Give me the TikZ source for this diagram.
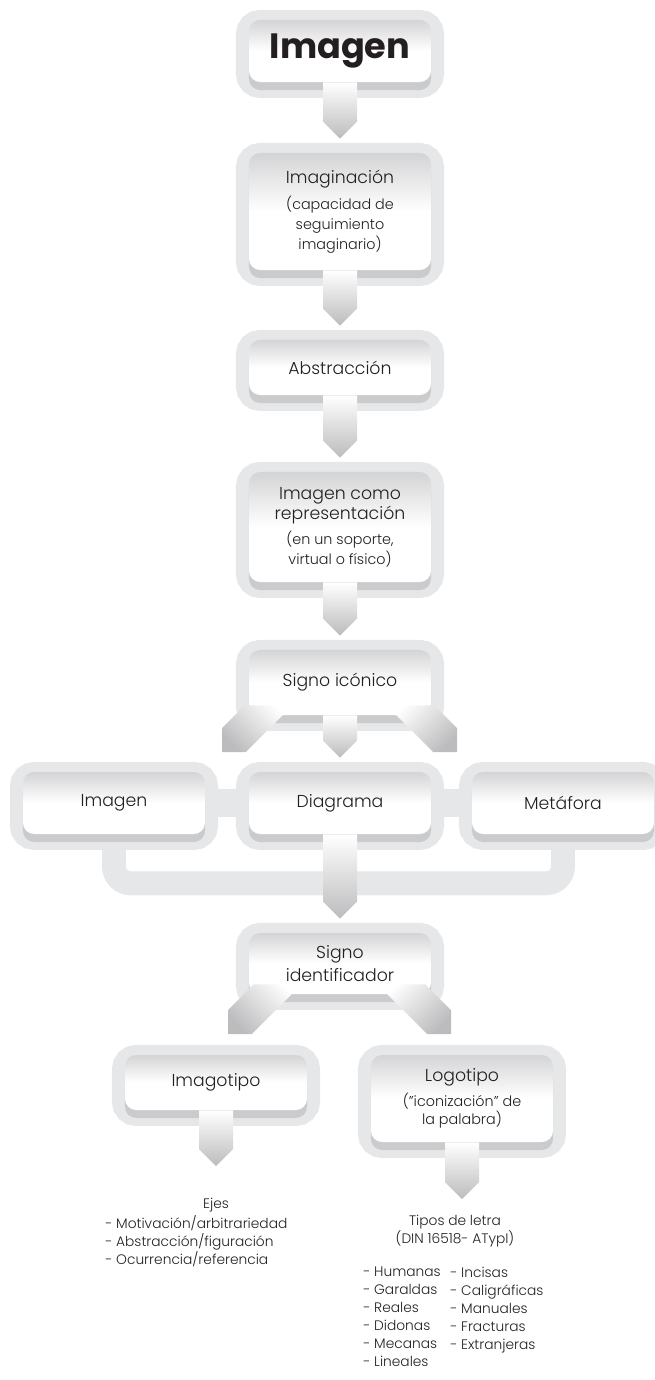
\documentclass[tikz,border=0pt]{standalone}
\usepackage{fontspec}
\setmainfont{Poppins Light}
\newfontfamily\negrita{Poppins Bold}
\usepackage{tikz}
\usetikzlibrary{calc,backgrounds}

\definecolor{marco}{RGB}{230,231,232}
\definecolor{cajasup}{RGB}{212,212,214}
\definecolor{labio}{RGB}{203,203,205}
\definecolor{flechagris}{RGB}{188,188,190}
\definecolor{tinta}{RGB}{35,31,32}

\newcommand{\texto}{\fontsize{12.3}{14}\selectfont}
\newcommand{\parentesis}{\fontsize{10.2}{14}\selectfont}
\newcommand{\titular}{\fontsize{25}{30}\selectfont\negrita}
\newcommand{\nota}{\fontsize{9.8}{12.8}\selectfont}

\tikzset{
  caja/.style={rounded corners=8pt, minimum width=4.55cm, align=center, text=tinta, font=\texto,
    top color=cajasup, bottom color=white, middle color=white,
    preaction={draw=marco, line width=18.5pt, transform canvas={yshift=-2.1pt}},
    preaction={fill=labio, transform canvas={yshift=-5.7pt}}},
  flecha/.style={top color=white, bottom color=flechagris},
  barra/.style={draw=marco, line width=20pt},
  nota/.style={font=\nota, text=tinta, align=center},
  lista/.style={font=\nota, text=tinta, align=left, anchor=north west, inner sep=0pt}
}

\newcommand{\bajar}[3][14]{%
  \shade[flecha] ($(#2.south)+(-17,0)$) -- ($(#2.south |- #3.north)+(-17,-#1-17)$)
    -- ($(#2.south |- #3.north)+(0,-#1)$) -- ($(#2.south |- #3.north)+(17,-#1-17)$)
    -- ($(#2.south)+(17,0)$) -- cycle;}
\newcommand{\sesgar}[4]{%
  \shade[flecha, shading angle=#4] let \p1=(#2), \p2=(#1.south) in
    (\p1) -- (\x1,\y1+17pt) -- ({\x1+(#3)*(\y2+7pt-\y1-17pt)},\y2+7pt)
    -- ({\x1+(#3)*(\y2+7pt-\y1+17pt)},\y2+7pt) -- ({\x1+(#3)*17pt},\y1) -- cycle;}

\begin{document}
\begin{tikzpicture}[x=0.025cm, y=-0.025cm]
\useasboundingbox (0,0) rectangle (655,1380);

\node[caja, minimum height=1.55cm, font=\titular] (titulo) at (340,51) {Imagen};
\node[caja, minimum height=2.925cm] (imaginacion) at (340,211.5) {Imaginación\\[5pt]{\parentesis (capacidad de}\\{\parentesis seguimiento}\\{\parentesis imaginario)}};
\node[caja, minimum height=1.375cm] (abstraccion) at (340,367.5) {Abstracción};
\node[caja, minimum height=2.75cm] (representacion) at (340,527) {Imagen como\\representación\\[4pt]{\parentesis (en un soporte,}\\{\parentesis virtual o físico)}};
\node[caja, minimum height=1.625cm] (icono) at (340,682.5) {Signo icónico};

\node[caja, minimum height=1.55cm] (imagenb) at (114,803) {Imagen};
\node[caja, minimum height=1.55cm] (diagrama) at (340,803) {Diagrama};
\node[caja, minimum height=1.55cm] (metafora) at (563,803) {Metáfora};

\node[caja, minimum height=1.525cm] (identificador) at (340,963.5) {Signo\\[2pt]identificador};
\node[caja, minimum height=1.375cm] (imagotipo) at (216,1082.5) {Imagotipo};
\node[caja, minimum height=2.175cm] (logotipo) at (462,1098.5) {Logotipo\\[4pt]{\parentesis ("iconización" de}\\[-1pt]{\parentesis la palabra)}};

\node[nota] (ejes) at (216,1205) {Ejes};
\node[lista] (ejeslista) at (105,1215) {- Motivación/arbitrariedad\\- Abstracción/figuración\\- Ocurrencia/referencia};
\node[nota] (tipos) at (455,1231) {Tipos de letra\\(DIN 16518- ATypI)};
\node[lista] (familias1) at (363,1267) {- Humanas\\- Garaldas\\- Reales\\- Didonas\\- Mecanas\\- Lineales};
\node[lista] (familias2) at (450,1267) {- Incisas\\- Caligráficas\\- Manuales\\- Fracturas\\- Extranjeras};

\coordinate (puntaimagen) at (222,752);
\coordinate (puntametafora) at (457,752);
\coordinate (puntaimagotipo) at (228,1034);
\coordinate (puntalogotipo) at (451,1034);

\begin{scope}[on background layer]
\draw[barra] (imagenb) -- (metafora);
\draw[barra, line width=17pt, rounded corners=12pt] (imagenb.south) |- ($(diagrama.south)+(0,49)$) -| (metafora.south);
\end{scope}

\bajar{titulo}{imaginacion}
\bajar{imaginacion}{abstraccion}
\bajar{abstraccion}{representacion}
\bajar{representacion}{icono}
\bajar{icono}{diagrama}
\sesgar{icono}{puntaimagen}{1}{-45}
\sesgar{icono}{puntametafora}{-1}{45}
\bajar{diagrama}{identificador}
\sesgar{identificador}{puntaimagotipo}{1}{-45}
\sesgar{identificador}{puntalogotipo}{-1}{45}
\bajar[27]{imagotipo}{ejes}
\bajar[11]{logotipo}{tipos}

\end{tikzpicture}
\end{document}
